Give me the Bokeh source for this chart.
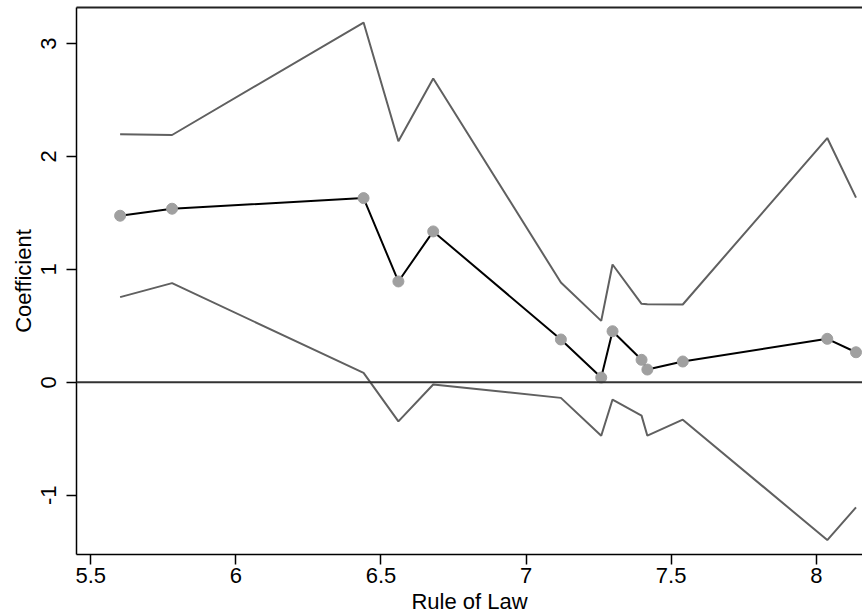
from bokeh.plotting import figure
from bokeh.models import Range1d, LinearAxis, FixedTicker, Span
from bokeh.embed import file_html
from bokeh.resources import INLINE

# Data
rule_of_law = [5.601, 5.780, 6.440, 6.560, 6.680, 7.120, 7.259, 7.298, 7.398, 7.418, 7.540, 8.038, 8.137]
coefficient = [1.475, 1.537, 1.631, 0.893, 1.336, 0.379, 0.042, 0.452, 0.199, 0.113, 0.184, 0.385, 0.266]
upper_ci = [2.196, 2.190, 3.186, 2.134, 2.690, 0.884, 0.544, 1.043, 0.695, 0.692, 0.689, 2.163, 1.635]
lower_ci = [0.754, 0.878, 0.083, -0.346, -0.020, -0.138, -0.473, -0.153, -0.295, -0.473, -0.331, -1.397, -1.108]
x_ticks = [5.5, 6, 6.5, 7, 7.5, 8]
y_ticks = [-1, 0, 1, 2, 3]
y_tick_labels = {-1: "-1", 0: "0", 1: "1", 2: "2", 3: "3"}

FONT = "Liberation Sans"

p = figure(width=862, height=616, output_backend="svg", toolbar_location=None,
           x_range=Range1d(5.4507, 8.1594), y_range=Range1d(-1.525, 3.319),
           min_border_left=76, min_border_right=0, min_border_top=7, min_border_bottom=62)
p.outline_line_color = None
p.grid.visible = False
p.background_fill_color = "white"
p.border_fill_color = "white"

# axes
p.xaxis.ticker = FixedTicker(ticks=x_ticks)
p.yaxis.ticker = FixedTicker(ticks=y_ticks)
p.yaxis.major_label_overrides = y_tick_labels
for ax in (p.xaxis[0], p.yaxis[0]):
    ax.axis_line_color = "black"
    ax.axis_line_width = 1.5
    ax.major_tick_line_color = "black"
    ax.major_tick_line_width = 1.5
    ax.major_tick_out = 10
    ax.major_tick_in = 0
    ax.minor_tick_line_color = None
    ax.major_label_text_font = FONT
    ax.major_label_text_font_size = "22px"
    ax.major_label_text_color = "black"
    ax.axis_label_text_font = FONT
    ax.axis_label_text_font_size = "22px"
    ax.axis_label_text_font_style = "normal"
    ax.axis_label_text_color = "black"

p.xaxis.axis_label = "Rule of Law"
p.xaxis.major_label_standoff = 3
p.xaxis.axis_label_standoff = 3
p.yaxis.axis_label = "Coefficient"
p.yaxis.major_label_orientation = "vertical"
p.yaxis.major_label_standoff = 10
p.yaxis.axis_label_standoff = 3

# top frame line
top = LinearAxis(ticker=FixedTicker(ticks=[]), axis_line_color="#222222", axis_line_width=2,
                 major_tick_out=0, major_tick_in=0, minor_tick_out=0, minor_tick_in=0,
                 major_label_text_font_size="0px")
p.add_layout(top, "above")

# confidence bounds
p.line(rule_of_law, upper_ci, line_color="#606060", line_width=2)
p.line(rule_of_law, lower_ci, line_color="#606060", line_width=2)

# zero line
p.add_layout(Span(location=0, dimension="width", line_color="#333333", line_width=2))

# coefficient line and markers
p.line(rule_of_law, coefficient, line_color="black", line_width=2)
p.scatter(rule_of_law, coefficient, size=11, fill_color="#a0a0a0", line_color="#a0a0a0")

open("out.html", "w").write(file_html(p, INLINE))
